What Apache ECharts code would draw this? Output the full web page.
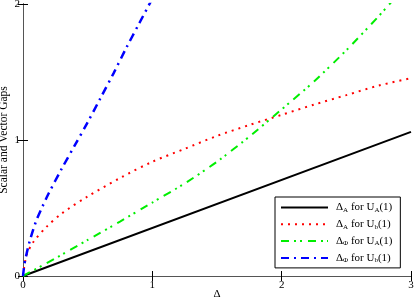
<!DOCTYPE html>
<html>
<head>
<meta charset="utf-8">
<script src="https://cdn.jsdelivr.net/npm/echarts@6/dist/echarts.min.js"></script>
<style>html,body{margin:0;padding:0;background:#fff}#c{width:415px;height:300px}</style>
</head>
<body>
<div id="c"></div>
<script>
// ---- data ----
var xTicks = [0, 1, 2, 3];
var yTicks = [0, 1, 2];
var seriesNames = ['dA_UA', 'dA_Ub', 'dP_UA', 'dP_Ub'];

var blackX = [0, 3];
var blackY = [0, 1.06];

var redX = [0, 0.01, 0.03, 0.08, 0.18, 0.3, 0.5, 0.75, 1.0, 1.25, 1.5, 1.75, 2.0, 2.25, 2.5, 2.75, 3.0];
var redY = [0, 0.07, 0.16, 0.25, 0.36, 0.46, 0.585, 0.72, 0.84, 0.935, 1.03, 1.11, 1.185, 1.26, 1.33, 1.40, 1.455];

var greenX = [0, 0.25, 0.5, 0.75, 1.0, 1.25, 1.5, 1.75, 2.0, 2.25, 2.5, 2.75, 3.0];
var greenY = [0, 0.13, 0.265, 0.40, 0.54, 0.68, 0.84, 1.025, 1.225, 1.43, 1.66, 1.91, 2.18];

var blueX = [0, 0.01, 0.02, 0.05, 0.1, 0.15, 0.2, 0.3, 0.4, 0.5, 0.6, 0.7, 0.8, 0.9, 1.0];
var blueY = [0, 0.08, 0.13, 0.25, 0.40, 0.51, 0.61, 0.79, 0.96, 1.13, 1.31, 1.49, 1.68, 1.86, 2.04];

function pairs(xs, ys) { return xs.map(function (x, i) { return [x, ys[i]]; }); }

var FONT = '"Liberation Serif", "DejaVu Serif", serif';
var legendText = {
  dA_UA: '{d|Δ}{s|A}{t| for U}{s|A}{t|(1)}',
  dA_Ub: '{d|Δ}{s|A}{t| for U}{s|b}{t|(1)}',
  dP_UA: '{d|Δ}{s|Φ}{t| for U}{s|A}{t|(1)}',
  dP_Ub: '{d|Δ}{s|Φ}{t| for U}{s|b}{t|(1)}'
};

var chart = echarts.init(document.getElementById('c'), null, {renderer: 'canvas'});
var axisCommon = {
  axisLine: {show: true, lineStyle: {color: '#000', width: 1}},
  axisTick: {show: true, inside: true, length: 5, lineStyle: {color: '#000'}},
  splitLine: {show: false},
  axisLabel: {color: '#000', fontFamily: FONT, fontSize: 11}
};
chart.setOption({
  animation: false,
  backgroundColor: '#fff',
  textStyle: {fontFamily: FONT},
  grid: {left: 23, right: 4, top: 4, bottom: 24, containLabel: false, outerBoundsMode: 'none'},
  xAxis: [
    Object.assign({}, axisCommon, {
      type: 'value', min: 0, max: 3, interval: 1, position: 'bottom',
      name: 'Δ', nameLocation: 'middle', nameGap: 13, nameMoveOverlap: false,
      nameTextStyle: {fontFamily: FONT, fontSize: 11, color: '#000'},
      axisLabel: {color: '#000', fontFamily: FONT, fontSize: 11, margin: 4}
    }),
    Object.assign({}, axisCommon, {
      type: 'value', min: 0, max: 3, interval: 1, position: 'top',
      axisLine: {show: true, lineStyle: {color: '#555', width: 1}},
      axisLabel: {show: false}
    })
  ],
  yAxis: [
    Object.assign({}, axisCommon, {
      type: 'value', min: 0, max: 2, interval: 1, position: 'left',
      name: 'Scalar and Vector Gaps', nameLocation: 'middle', nameGap: 13, nameMoveOverlap: false,
      nameTextStyle: {fontFamily: FONT, fontSize: 11.5, color: '#000'},
      axisLabel: {color: '#000', fontFamily: FONT, fontSize: 11, margin: 3}
    }),
    Object.assign({}, axisCommon, {
      type: 'value', min: 0, max: 2, interval: 1, position: 'right',
      axisLine: {show: true, lineStyle: {color: '#555', width: 1}},
      axisLabel: {show: false}
    })
  ],
  legend: {
    orient: 'vertical',
    left: 275, top: 197,
    padding: [5, 8, 4, 5],
    itemWidth: 47, itemHeight: 10, itemGap: 5.3,
    backgroundColor: '#fff',
    borderColor: '#000', borderWidth: 1,
    data: seriesNames,
    itemStyle: {opacity: 0},
    formatter: function (n) { return legendText[n]; },
    textStyle: {
      fontFamily: FONT, fontSize: 11, color: '#000', padding: [0, 0, 0, 3],
      rich: {
        d: {fontFamily: FONT, fontSize: 11, color: '#000'},
        t: {fontFamily: FONT, fontSize: 11, color: '#000'},
        s: {fontFamily: FONT, fontSize: 7, color: '#000', padding: [5, 0, 0, 0]}
      }
    }
  },
  series: [
    {name: 'dA_UA', type: 'line', data: pairs(blackX, blackY), showSymbol: false, symbol: 'none',
     lineStyle: {color: '#000', width: 2}, itemStyle: {color: '#000'}},
    {name: 'dA_Ub', type: 'line', data: pairs(redX, redY), showSymbol: false, symbol: 'none', smooth: 0.3,
     lineStyle: {color: '#ff0000', width: 2, type: [2, 5]}, itemStyle: {color: '#ff0000'}},
    {name: 'dP_UA', type: 'line', data: pairs(greenX, greenY), showSymbol: false, symbol: 'none', smooth: 0.2,
     lineStyle: {color: '#00ee00', width: 2, type: [8, 5, 2, 4, 2, 6]}, itemStyle: {color: '#00ee00'}},
    {name: 'dP_Ub', type: 'line', data: pairs(blueX, blueY), showSymbol: false, symbol: 'none', smooth: 0.3,
     lineStyle: {color: '#0000ff', width: 2.5, type: [8, 5, 2, 5]}, itemStyle: {color: '#0000ff'}}
  ]
});
</script>
</body>
</html>
